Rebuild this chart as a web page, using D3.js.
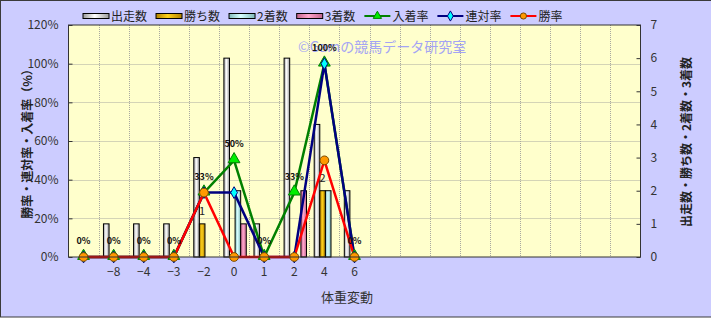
<!DOCTYPE html>
<html>
<head>
<meta charset="utf-8">
<script src="https://cdn.jsdelivr.net/npm/d3@7"></script>
<style>
  body { margin: 0; background: #fff; }
  text { font-family: "Noto Sans CJK JP", "DejaVu Sans", sans-serif; }
</style>
</head>
<body>
<svg id="chart" width="711" height="319"></svg>
<script>
// categories (体重変動) - the chart reserves 19 slots, only the first 10 are used
const categories = ["", "−8", "−4", "−3", "−2", "0", "1", "2", "4", "6"]
const slotCount = 19

// counts (right axis)
const runs    = [0, 1, 1, 1, 3, 6, 1, 6, 4, 2]   // 出走数
const wins    = [0, 0, 0, 0, 1, 0, 0, 0, 2, 0]   // 勝ち数
const seconds = [0, 0, 0, 0, 0, 2, 0, 0, 2, 0]   // 2着数
const thirds  = [0, 0, 0, 0, 0, 1, 0, 2, 0, 0]   // 3着数

// rates in % (left axis)
const placeRate  = [0, 0, 0, 0, 33.3, 50, 0, 33.3, 100, 0]   // 入着率
const rentaiRate = [0, 0, 0, 0, 33.3, 33.3, 0, 0, 100, 0]    // 連対率
const winRate    = [0, 0, 0, 0, 33.3, 0, 0, 0, 50, 0]        // 勝率

const leftTicks = [0, 20, 40, 60, 80, 100, 120]
const rightTicks = [0, 1, 2, 3, 4, 5, 6, 7]

const barSeries = [
    {name: "出走数", values: runs,    c0: "#9a9a9a", c1: "#ffffff"},
    {name: "勝ち数", values: wins,    c0: "#b08000", c1: "#ffd21a"},
    {name: "2着数",  values: seconds, c0: "#7fb7b7", c1: "#d8ffff"},
    {name: "3着数",  values: thirds,  c0: "#c0648c", c1: "#ffa6cc"}
]
const lineSeries = [
    {name: "入着率", values: placeRate,  stroke: "#008000", marker: "triangle", fill: "#00ee00"},
    {name: "連対率", values: rentaiRate, stroke: "#000080", marker: "diamond",  fill: "#00ffff"},
    {name: "勝率",   values: winRate,    stroke: "#ff0000", marker: "circle",   fill: "#ff9900"}
]

const svg = d3.select("#chart")
const W = 711, H = 319
const pLeft = 68.5, pRight = 640.5, pTop = 25, pBottom = 257

// background + border
svg.append("rect").attr("x", 0).attr("y", 0).attr("width", W).attr("height", H).attr("fill", "#fff")
svg.append("rect").attr("x", 0.5).attr("y", 0.5).attr("width", W).attr("height", 316.5)
    .attr("fill", "#ccccff").attr("stroke", "#3a3a3a")

const defs = svg.append("defs")
barSeries.forEach((s, i) => {
    const g = defs.append("linearGradient").attr("id", "grad" + i)
        .attr("x1", "0").attr("x2", "1").attr("y1", "0").attr("y2", "0")
    g.append("stop").attr("offset", "0%").attr("stop-color", s.c0)
    g.append("stop").attr("offset", "45%").attr("stop-color", s.c1)
    g.append("stop").attr("offset", "100%").attr("stop-color", s.c0)
})

// scales
const x = d3.scaleBand().domain(d3.range(slotCount)).range([pLeft, pRight])
const groupW = 22.4
const xs = d3.scaleBand().domain(barSeries.map(d => d.name))
    .range([(x.bandwidth() - groupW) / 2 + 1, (x.bandwidth() + groupW) / 2 + 1])
const yL = d3.scaleLinear().domain([0, 120]).range([pBottom, pTop])
const yR = d3.scaleLinear().domain([0, 7]).range([pBottom, pTop])
const cx = i => x(i) + x.bandwidth() / 2

// plot area
svg.append("rect").attr("x", pLeft).attr("y", pTop).attr("width", pRight - pLeft).attr("height", pBottom - pTop)
    .attr("fill", "#ffffcc")

// grid
const grid = svg.append("g").attr("stroke", "#a8a8a0").attr("stroke-dasharray", "1,1").attr("stroke-width", 1)
grid.selectAll(".hg").data(leftTicks.slice(1, -1)).join("line")
    .attr("x1", pLeft).attr("x2", pRight)
    .attr("y1", d => Math.round(yL(d)) + 0.5).attr("y2", d => Math.round(yL(d)) + 0.5)
grid.selectAll(".vg").data(d3.range(1, slotCount)).join("line")
    .attr("x1", d => Math.round(x(d)) + 0.5).attr("x2", d => Math.round(x(d)) + 0.5)
    .attr("y1", pTop).attr("y2", pBottom)

// watermark
svg.append("text").attr("x", 298).attr("y", 52)
    .attr("fill", "#a4a4f4").attr("font-size", 14)
    .text("©Gamの競馬データ研究室")

// bars
barSeries.forEach((s, si) => {
    svg.append("g").selectAll("rect")
        .data(s.values.map((v, i) => ({v, i})).filter(d => d.v > 0))
        .join("rect")
        .attr("x", d => x(d.i) + xs(s.name))
        .attr("y", d => yR(d.v))
        .attr("width", xs.bandwidth())
        .attr("height", d => pBottom - yR(d.v))
        .attr("fill", `url(#grad${si})`)
        .attr("stroke", "#000").attr("stroke-width", 1)
})

// 勝ち数 labels
svg.append("g").selectAll("text")
    .data(wins.map((v, i) => ({v, i})).filter(d => d.v > 0))
    .join("text")
    .attr("x", d => x(d.i) + xs("勝ち数") + xs.bandwidth() / 2)
    .attr("y", d => yR(d.v) - 9)
    .attr("text-anchor", "middle").attr("font-size", 11).attr("fill", "#222")
    .text(d => d.v)

// lines and markers
const line = d3.line().x((d, i) => cx(i)).y(d => yL(d))
const symbols = {
    triangle: d3.symbol().type(d3.symbolTriangle).size(60),
    diamond: d3.symbol().type(d3.symbolDiamond).size(40),
    circle: d3.symbol().type(d3.symbolCircle).size(60)
}
lineSeries.forEach(s => {
    svg.append("path").datum(s.values)
        .attr("d", line).attr("fill", "none")
        .attr("stroke", s.stroke).attr("stroke-width", 2.5)
})
lineSeries.forEach(s => {
    svg.append("g").selectAll("path")
        .data(s.values)
        .join("path")
        .attr("transform", (d, i) => `translate(${cx(i)},${yL(d) + (s.marker === "triangle" ? -1 : 0)})`)
        .attr("d", symbols[s.marker])
        .attr("fill", s.fill)
        .attr("stroke", s.marker === "circle" ? "#7a4a00" : s.stroke)
        .attr("stroke-width", 1)
})

// 入着率 labels
svg.append("g").selectAll("text")
    .data(placeRate)
    .join("text")
    .attr("x", (d, i) => cx(i))
    .attr("y", d => yL(d) - 13)
    .attr("text-anchor", "middle").attr("font-size", 9).attr("font-weight", "bold")
    .attr("font-family", "DejaVu Sans, sans-serif")
    .attr("fill", "#111")
    .text(d => Math.round(d) + "%")

// plot border
svg.append("rect").attr("x", pLeft).attr("y", pTop).attr("width", pRight - pLeft).attr("height", pBottom - pTop)
    .attr("fill", "none").attr("stroke", "#333")

// axes
const axL = svg.append("g").attr("transform", `translate(${pLeft},0)`)
    .call(d3.axisLeft(yL).tickValues(leftTicks).tickFormat(d => d + "%").tickSize(-4).tickPadding(10))
const axR = svg.append("g").attr("transform", `translate(${pRight},0)`)
    .call(d3.axisRight(yR).tickValues(rightTicks).tickFormat(d3.format("d")).tickSize(-4).tickPadding(10))
const axB = svg.append("g").attr("transform", `translate(0,${pBottom})`)
    .call(d3.axisBottom(x).tickFormat(i => categories[i] || "").tickSize(0).tickPadding(10))
;[axL, axR, axB].forEach(a => {
    a.select(".domain").remove()
    a.selectAll("text").attr("font-family", "Liberation Sans, Arial, sans-serif")
        .attr("font-size", 12).attr("fill", "#333")
    a.selectAll("line").attr("stroke", "#333")
})

// axis titles
svg.append("text").attr("transform", `translate(32,141) rotate(-90)`)
    .attr("text-anchor", "middle").attr("font-size", 12).attr("font-weight", "bold").attr("fill", "#222")
    .text("勝率・連対率・入着率（%）")
svg.append("text").attr("transform", `translate(691,142) rotate(-90)`)
    .attr("text-anchor", "middle").attr("font-size", 12).attr("font-weight", "bold").attr("fill", "#222")
    .text("出走数・勝ち数・2着数・3着数")
svg.append("text").attr("x", 347).attr("y", 302)
    .attr("text-anchor", "middle").attr("font-size", 13).attr("fill", "#333")
    .text("体重変動")

// legend
const legend = svg.append("g").attr("transform", "translate(83,16)")
let lx = 0
barSeries.concat(lineSeries).forEach((s, i) => {
    const g = legend.append("g").attr("transform", `translate(${lx},0)`)
    if (s.c0) {
        g.append("rect").attr("x", 0).attr("y", -2.5).attr("width", 26).attr("height", 5)
            .attr("fill", `url(#grad${i})`).attr("stroke", "#000")
    } else {
        g.append("line").attr("x1", 0).attr("x2", 26).attr("stroke", s.stroke).attr("stroke-width", 2)
        g.append("path").attr("transform", "translate(13,0)")
            .attr("d", d3.symbol().type(s.marker === "triangle" ? d3.symbolTriangle
                : s.marker === "diamond" ? d3.symbolDiamond : d3.symbolCircle).size(30))
            .attr("fill", s.fill).attr("stroke", s.marker === "circle" ? "#7a4a00" : s.stroke)
    }
    const t = g.append("text").attr("x", 28).attr("y", 4.5).attr("font-size", 12).attr("fill", "#222").text(s.name)
    lx += 28 + t.node().getComputedTextLength() + 9
})
</script>
</body>
</html>
